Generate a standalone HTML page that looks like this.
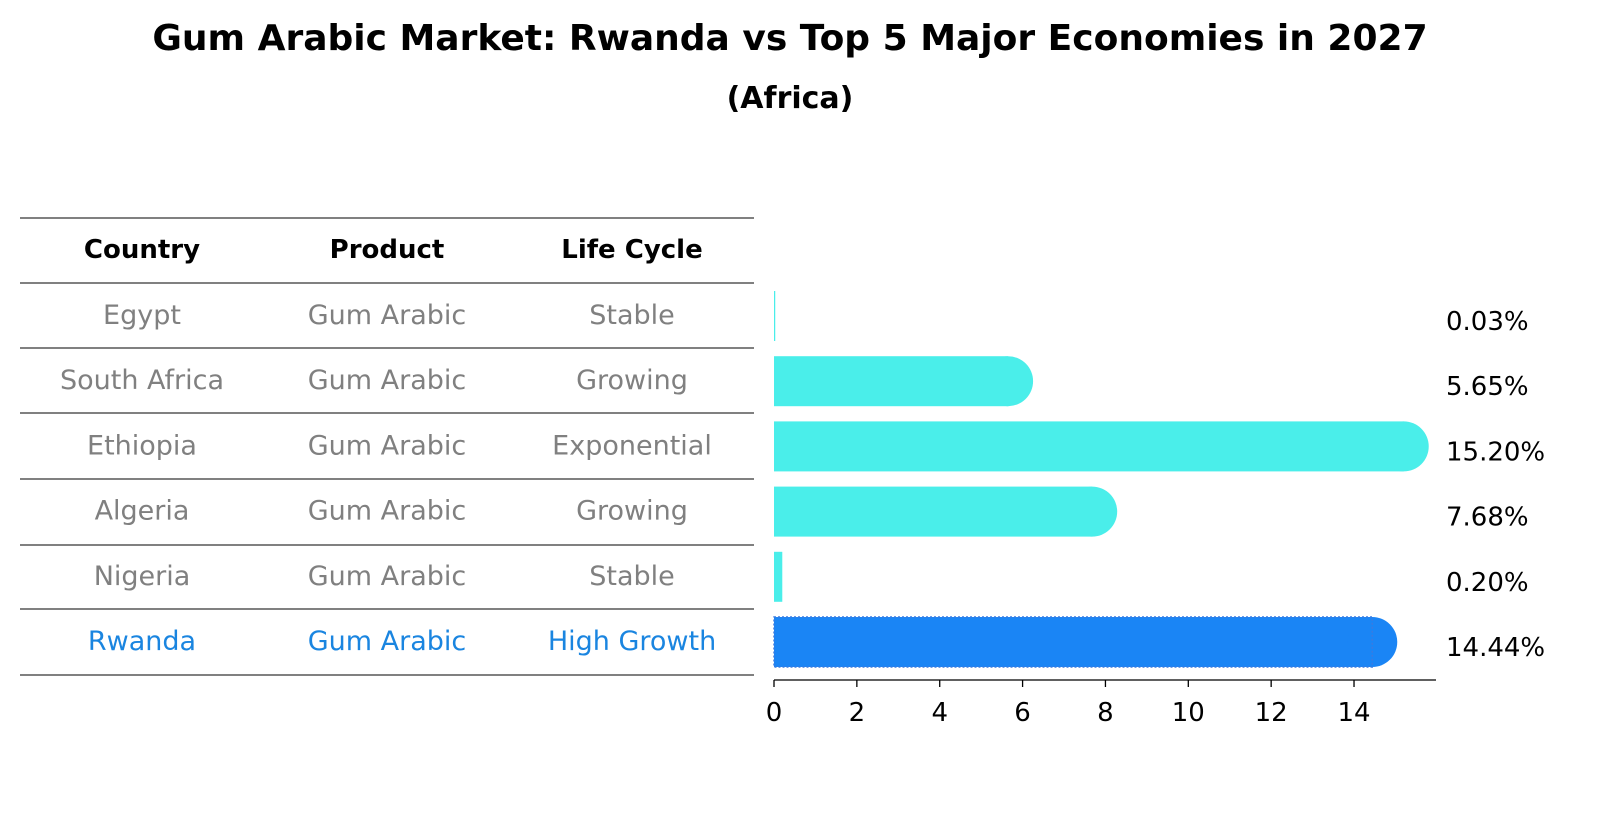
<!DOCTYPE html>
<html><head><meta charset="utf-8"><style>
body{margin:0;background:#fff;width:1604px;height:823px;overflow:hidden;font-family:"Liberation Sans","DejaVu Sans",sans-serif}
</style></head><body>
<svg id="chart" width="1604" height="823" xmlns="http://www.w3.org/2000/svg" font-family="DejaVu Sans, Liberation Sans, sans-serif">
<text x="790" y="50" text-anchor="middle" font-size="36" font-weight="bold">Gum Arabic Market: Rwanda vs Top 5 Major Economies in 2027</text>
<text x="790" y="108" text-anchor="middle" font-size="30" font-weight="bold">(Africa)</text>
<g id="table"></g>
<g id="bars"></g>
<g id="axis"></g>
</svg>
<script>
const countries=["Egypt","South Africa","Ethiopia","Algeria","Nigeria","Rwanda"];
const products=["Gum Arabic","Gum Arabic","Gum Arabic","Gum Arabic","Gum Arabic","Gum Arabic"];
const lifeCycles=["Stable","Growing","Exponential","Growing","Stable","High Growth"];
const values=[0.03,5.65,15.20,7.68,0.20,14.44];
const valueLabels=["0.03%","5.65%","15.20%","7.68%","0.20%","14.44%"];
const xTicks=[0,2,4,6,8,10,12,14];
const NS="http://www.w3.org/2000/svg";
const x0=774,unit=41.43;
const xScale=v=>x0+v*unit;
const rowY=i=>315+i*65.2;
function mk(t,attrs,parent){const e=document.createElementNS(NS,t);for(const k in attrs)e.setAttribute(k,attrs[k]);parent.appendChild(e);return e;}
const table=document.getElementById('table'),bars=document.getElementById('bars'),axis=document.getElementById('axis');
const lines=[218,283,348,413,479,545,609,675];
lines.forEach(y=>{const l=mk('line',{x1:20,x2:754,y1:y,y2:y,stroke:'#000','stroke-width':1},table);

});
const colX=[142,387,632],heads=["Country","Product","Life Cycle"];
heads.forEach((h,j)=>{const t=mk('text',{x:colX[j],y:258,'text-anchor':'middle','font-size':26,'font-weight':'bold'},table);t.textContent=h;

});
countries.forEach((c,i)=>{
 const col=i===5?'#1a85e0':'#808080';
 [c,products[i],lifeCycles[i]].forEach((s,j)=>{const t=mk('text',{x:colX[j],y:rowY(i)+9,'text-anchor':'middle','font-size':27,fill:col},table);t.textContent=s;
 
 });
 const v=values[i],xe=xScale(v),cy=rowY(i)+1,h=50;
 const fill=i===5?'#1a85f5':'#4aeeea';
 const g=mk('g',{},bars);
 
 
 mk('rect',{x:x0,y:cy-h/2,width:Math.max(xe-x0,1),height:h,fill:fill},g);
 if(v>1) mk('circle',{cx:xe,cy:cy,r:h/2,fill:fill},g);
 if(i===5) mk('rect',{x:x0,y:cy-h/2,width:xe-x0,height:h,fill:'none',stroke:'#3a7be0','stroke-dasharray':'2,2','stroke-width':1.5},g);
 const t=mk('text',{x:1446,y:cy+14,'font-size':26},bars);t.textContent=valueLabels[i];
 
 
});
const al=mk('line',{x1:x0,x2:1436,y1:680,y2:680,stroke:'#000','stroke-width':1.3},axis);


xTicks.forEach(v=>{const x=xScale(v);
 const tk=mk('line',{x1:x,x2:x,y1:680,y2:687,stroke:'#000','stroke-width':1.3},axis);
 
 
 const t=mk('text',{x:x,y:721,'text-anchor':'middle','font-size':26},axis);t.textContent=v;
 
 });
</script>
</body></html>
